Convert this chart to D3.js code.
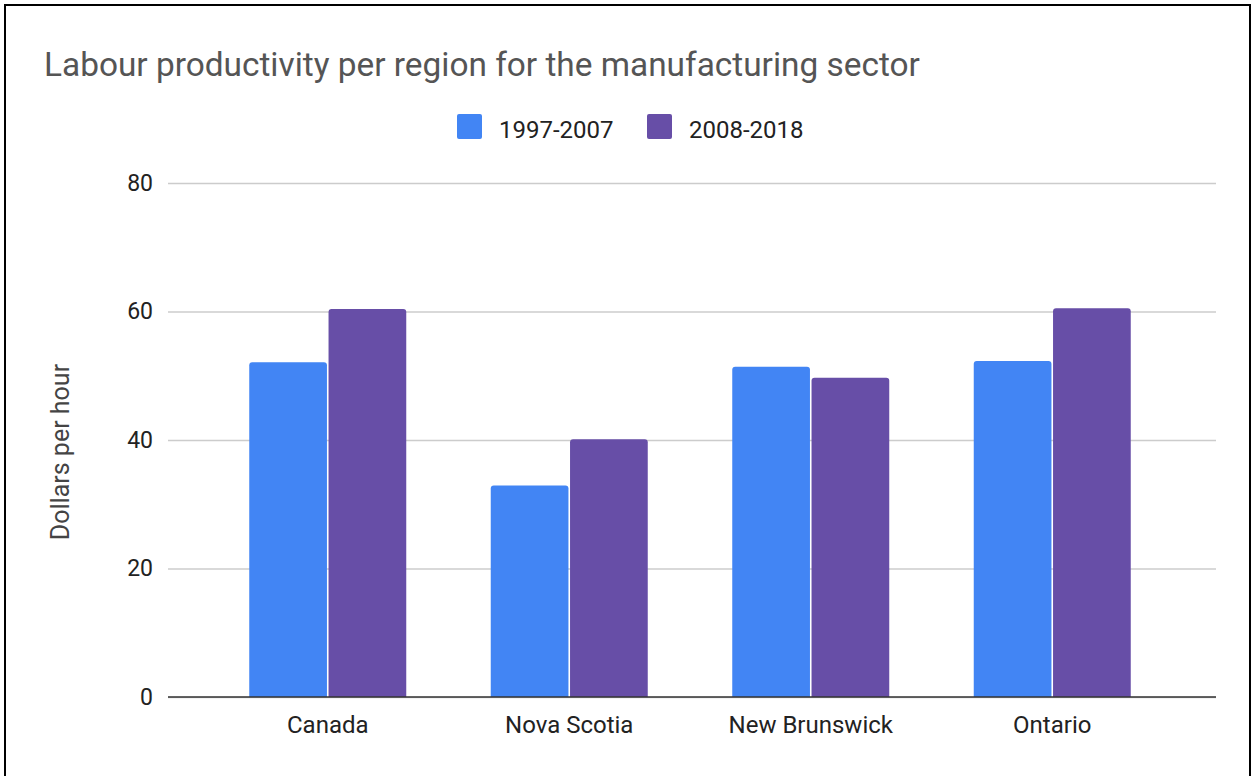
<!DOCTYPE html>
<html>
<head>
<meta charset="utf-8">
<script src="https://cdn.jsdelivr.net/npm/d3@7"></script>
<style>
  html, body { margin: 0; padding: 0; background: #fff; }
  svg { display: block; font-family: Roboto, "Noto Sans", sans-serif; }
</style>
</head>
<body>
<svg id="chart" width="1254" height="776"></svg>
<script>
// Labour productivity (dollars per hour) for the manufacturing sector
const regions = ["Canada", "Nova Scotia", "New Brunswick", "Ontario"];
const periods = ["1997-2007", "2008-2018"];
const values1997_2007 = [52.1, 32.9, 51.4, 52.3];
const values2008_2018 = [60.4, 40.1, 49.7, 60.5];
const yTicks = [0, 20, 40, 60, 80];
const colors = ["#4285f4", "#674ea7"];

const seriesValues = [values1997_2007, values2008_2018];

const svg = d3.select("#chart");
const W = 1254, H = 776;

// outer frame
svg.append("rect")
  .attr("x", 5).attr("y", 5).attr("width", W - 9).attr("height", H + 10)
  .attr("fill", "#fff").attr("stroke", "#000").attr("stroke-width", 2);

const plot = { left: 168, right: 1216, top: 183, bottom: 697 };

const y = d3.scaleLinear().domain([0, 80]).range([plot.bottom, plot.top]);
const x = d3.scaleBand().domain(regions).range([207, 1173]).padding(0);
const xInner = d3.scaleBand().domain(periods).range([-78.5, 78.5]).paddingInner(0.02);

// title
svg.append("text")
  .attr("x", 44).attr("y", 76)
  .attr("fill", "#555")
  .style("font-size", "33.4px")
  .text("Labour productivity per region for the manufacturing sector");

// legend
const legendItems = [
  { label: periods[0], color: colors[0], sx: 457, tx: 499 },
  { label: periods[1], color: colors[1], sx: 647, tx: 689 }
];
const lg = svg.append("g");
legendItems.forEach(d => {
  lg.append("rect").attr("x", d.sx).attr("y", 114).attr("width", 25).attr("height", 25)
    .attr("rx", 2).attr("fill", d.color);
  lg.append("text").attr("x", d.tx).attr("y", 138).attr("fill", "#222")
    .style("font-size", "24px").text(d.label);
});

// gridlines and y tick labels
const yAxis = d3.axisLeft(y).tickValues(yTicks).tickSize(-(plot.right - plot.left)).tickPadding(15);
const gy = svg.append("g").attr("transform", `translate(${plot.left},0)`).call(yAxis);
gy.select(".domain").remove();
gy.selectAll(".tick line").attr("stroke", "#ccc").attr("stroke-width", 1.5);
gy.selectAll(".tick text").attr("fill", "#222").style("font-size", "23px")
  .attr("font-family", "Roboto, sans-serif");

// bars with slightly rounded tops
function barPath(x0, w, yTop, yBase, r) {
  r = Math.min(r, (yBase - yTop));
  return `M${x0},${yBase} V${yTop + r} Q${x0},${yTop} ${x0 + r},${yTop} H${x0 + w - r} Q${x0 + w},${yTop} ${x0 + w},${yTop + r} V${yBase} Z`;
}

const groups = svg.append("g").selectAll("g")
  .data(regions).join("g")
  .attr("transform", d => `translate(${x(d) + x.bandwidth() / 2},0)`);

groups.selectAll("path")
  .data((d, i) => periods.map((p, j) => ({ period: p, value: seriesValues[j][i], color: colors[j] })))
  .join("path")
  .attr("d", d => barPath(xInner(d.period), xInner.bandwidth(), y(d.value), y(0), 3))
  .attr("fill", d => d.color);

// baseline
svg.append("line")
  .attr("x1", plot.left).attr("x2", plot.right)
  .attr("y1", y(0)).attr("y2", y(0))
  .attr("stroke", "#333").attr("stroke-width", 1.5);

// category labels
const xAxis = d3.axisBottom(x).tickSize(0).tickPadding(0);
const gx = svg.append("g").attr("transform", `translate(0,${plot.bottom})`).call(xAxis);
gx.select(".domain").remove();
gx.selectAll(".tick text").attr("fill", "#222").style("font-size", "24px")
  .attr("dy", null).attr("y", 36)
  .attr("font-family", "Roboto, sans-serif");

// y-axis title
svg.append("text")
  .attr("transform", `translate(69,452) rotate(-90)`)
  .attr("text-anchor", "middle")
  .attr("fill", "#444")
  .style("font-size", "25px")
  .text("Dollars per hour");
</script>
</body>
</html>
